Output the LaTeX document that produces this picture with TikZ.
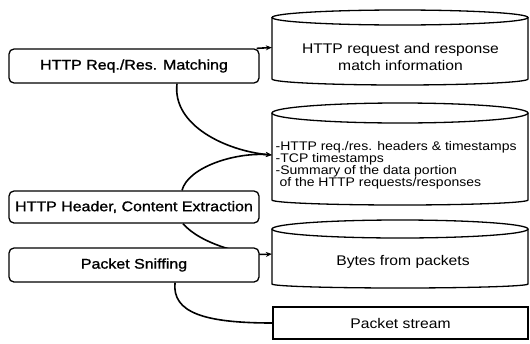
\documentclass[tikz,border=0pt]{standalone}
\usepackage{fontspec}
\setmainfont{Liberation Sans}
\newfontfamily\boxfont[FakeStretch=1.14,FakeBold=1.2]{Liberation Sans}
\newfontfamily\cylfont[FakeStretch=1.12]{Liberation Sans}
\usetikzlibrary{arrows.meta}
\begin{document}
\begin{tikzpicture}[x=1pt,y=1pt,
  procbox/.style={draw,line width=1.3pt,rounded corners=5pt,fill=white,
    minimum width=250pt,minimum height=34pt,inner sep=0pt,
    font=\boxfont\fontsize{14}{16}\selectfont},
  area/.style={inner sep=0pt},
  cylline/.style={line width=1.3pt,fill=white},
  cyltext/.style={inner sep=0pt,align=center,font=\cylfont\fontsize{14}{17}\selectfont},
  conn/.style={line width=1.6pt},
  arr/.style={conn,-{Stealth[length=6pt,width=5pt]}}
]
\useasboundingbox (0,0) rectangle (530,-343);

% invisible areas of the stores (for connector ends)
\node[area,minimum width=256pt,minimum height=75pt] (c1) at (400,-47.5) {};
\node[area,minimum width=256pt,minimum height=104pt] (c2) at (400,-155) {};
\node[area,minimum width=256pt,minimum height=67pt] (c3) at (400,-254) {};
\node[draw,line width=1.3pt,inner sep=0pt,minimum width=255pt,minimum height=32pt,
  font=\cylfont\fontsize{14}{17}\selectfont] (ps) at (400.5,-323) {Packet stream};

% process boxes positions (drawn later, on top of the connectors)
\coordinate (matc) at (134,-66);
\coordinate (hdrc) at (134,-207);
\coordinate (snfc) at (134,-265);
\node[procbox,draw=none,fill=none,text opacity=0] (mat) at (matc) {HTTP Req./Res. Matching};
\node[procbox,draw=none,fill=none,minimum height=32pt,text opacity=0] (hdr) at (hdrc) {HTTP Header, Content Extraction};
\node[procbox,draw=none,fill=none,text opacity=0] (snf) at (snfc) {Packet Sniffing};

% connectors
\draw[arr] ([xshift=-3pt]mat.north east) -- (c1.west);
\draw[arr] ([xshift=43pt]mat.south) .. controls +(-5,-42) and +(-45,4) .. (c2.west);
\draw[arr] ([xshift=48pt]hdr.north) .. controls +(6,23) and +(-37,3) .. (c2.west);
\draw[arr] ([xshift=49pt]hdr.south) .. controls +(17,-20) and +(-27,-2) .. (c3.west);
\draw[conn] ([xshift=41pt]snf.south) .. controls +(-3,-30) and +(-68,0) .. (ps.west);

% process boxes
\node[procbox] (matb) at (matc) {HTTP Req./Res. Matching};
\node[procbox,minimum height=32pt] (hdrb) at (hdrc) {HTTP Header, Content Extraction};
\node[procbox] (snfb) at (snfc) {Packet Sniffing};

% store 1
\draw[cylline] (272,-17.5) -- (272,-79) arc[start angle=180,end angle=360,x radius=128,y radius=6] -- (528,-17.5);
\draw[cylline] (400,-17.5) ellipse[x radius=128,y radius=7.5];
\node[cyltext] (t1) at (400.5,-57) {HTTP request and response\\match information};

% store 2
\draw[cylline] (272,-113) -- (272,-200) arc[start angle=180,end angle=360,x radius=128,y radius=5] -- (528,-113);
\draw[cylline] (400,-113) ellipse[x radius=128,y radius=10];
\node[inner sep=0pt,align=left,anchor=north west,font=\cylfont\fontsize{12.5}{12}\selectfont] (t2) at (275.5,-141) {-HTTP req./res. headers \& timestamps\\-TCP timestamps\\-Summary of the data portion\\\ of the HTTP requests/responses};

% store 3
\draw[cylline] (272,-229) -- (272,-284) arc[start angle=180,end angle=360,x radius=128,y radius=4] -- (528,-229);
\draw[cylline] (400,-229) ellipse[x radius=128,y radius=9];
\node[cyltext] (t3) at (403,-262) {Bytes from packets};
\end{tikzpicture}
\end{document}
